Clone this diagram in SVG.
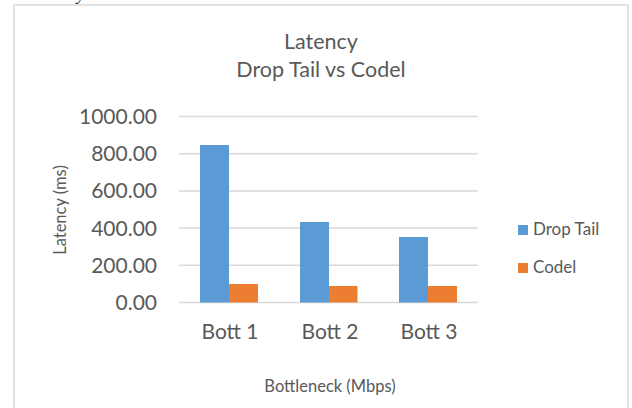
<svg xmlns="http://www.w3.org/2000/svg" width="632" height="408" viewBox="0 0 632 408">
  <style>
    .t { font-family: Lato, "Open Sans", "Liberation Sans", sans-serif; fill: #595959; }
    .title { font-size: 21.5px; text-anchor: middle; }
    .tick { font-size: 21px; text-anchor: end; }
    .cat { font-size: 21px; text-anchor: middle; }
    .axis { font-size: 16.5px; text-anchor: middle; }
    .leg { font-size: 17px; }
    .grid { stroke: #d9d9d9; stroke-width: 1.5; }
    .dt { fill: #5b9bd5; }
    .cd { fill: #ed7d31; }
  </style>
  <rect width="632" height="408" fill="#ffffff"/>
  <!-- caption above the frame, only its lower edge falls inside the page -->
  <text x="28" y="0" font-family="Liberation Serif, serif" font-style="italic" font-size="18" fill="#333">Latency</text>
  <!-- chart frame -->
  <rect x="14" y="5" width="614" height="420" fill="#ffffff" stroke="#d9d9d9" stroke-width="1.5"/>

  <g id="title">
    <text class="t title" x="321" y="49">Latency</text>
    <text class="t title" x="321" y="77">Drop Tail vs Codel</text>
  </g>

  <g id="gridlines">
    <line class="grid" x1="179" y1="116.5" x2="478" y2="116.5"/>
    <line class="grid" x1="179" y1="153.7" x2="478" y2="153.7"/>
    <line class="grid" x1="179" y1="190.9" x2="478" y2="190.9"/>
    <line class="grid" x1="179" y1="228.1" x2="478" y2="228.1"/>
    <line class="grid" x1="179" y1="265.3" x2="478" y2="265.3"/>
    <line class="grid" x1="179" y1="302.5" x2="478" y2="302.5"/>
  </g>

  <g id="y-axis">
    <text class="t tick" x="157" y="124">1000.00</text>
    <text class="t tick" x="157" y="161.2">800.00</text>
    <text class="t tick" x="157" y="198.4">600.00</text>
    <text class="t tick" x="157" y="235.6">400.00</text>
    <text class="t tick" x="157" y="272.8">200.00</text>
    <text class="t tick" x="157" y="310">0.00</text>
    <text class="t axis" transform="translate(66,210) rotate(-90)">Latency (ms)</text>
  </g>

  <g id="bars">
    <rect class="dt" x="200" y="145" width="29" height="157.5"/>
    <rect class="cd" x="229" y="284" width="29" height="18.5"/>
    <rect class="dt" x="300" y="222" width="29" height="80.5"/>
    <rect class="cd" x="329" y="286" width="28.5" height="16.5"/>
    <rect class="dt" x="399" y="237" width="29" height="65.5"/>
    <rect class="cd" x="428" y="286" width="29" height="16.5"/>
  </g>

  <g id="x-axis">
    <text class="t cat" x="230" y="339">Bott 1</text>
    <text class="t cat" x="330" y="339">Bott 2</text>
    <text class="t cat" x="429" y="339">Bott 3</text>
    <text class="t axis" x="330" y="392">Bottleneck (Mbps)</text>
  </g>

  <g id="legend">
    <rect class="dt" x="518" y="225" width="10" height="10"/>
    <text class="t leg" x="533" y="235">Drop Tail</text>
    <rect class="cd" x="518" y="263" width="10" height="10"/>
    <text class="t leg" x="533" y="273">Codel</text>
  </g>
</svg>
